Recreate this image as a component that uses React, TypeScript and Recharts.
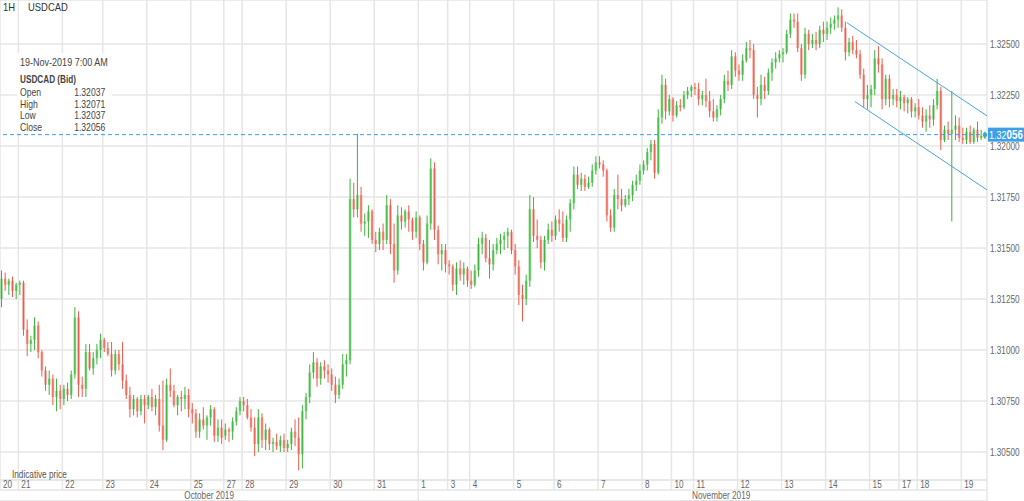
import React from 'react'
import { ComposedChart, Bar, XAxis, YAxis, CartesianGrid, ReferenceLine } from 'recharts'

// USDCAD, 2-hour candles: [open, high, low, close]
type Candle = [number, number, number, number]

const oct20: Candle[] = [
  [1.3125, 1.3139, 1.3121, 1.3135], [1.3135, 1.3138, 1.3129, 1.3132], [1.3132, 1.3135, 1.3127, 1.3134],
  [1.3134, 1.3136, 1.3126, 1.3129], [1.3129, 1.3133, 1.3125, 1.3132],
]
const oct21: Candle[] = [
  [1.3132, 1.3134, 1.3127, 1.3133], [1.3133, 1.3134, 1.3107, 1.311], [1.311, 1.3115, 1.3097, 1.3103],
  [1.3103, 1.3107, 1.3099, 1.3105], [1.3105, 1.3116, 1.31, 1.3112], [1.3112, 1.3114, 1.3096, 1.3099],
  [1.3099, 1.31, 1.3087, 1.309], [1.309, 1.3092, 1.308, 1.3083], [1.3083, 1.309, 1.3078, 1.3086],
  [1.3086, 1.3088, 1.3073, 1.3077], [1.3077, 1.3086, 1.307, 1.308], [1.308, 1.3083, 1.3071, 1.3076],
]
const oct22: Candle[] = [
  [1.3076, 1.3083, 1.3073, 1.3081], [1.3081, 1.3084, 1.3075, 1.3078], [1.3078, 1.309, 1.3076, 1.3088],
  [1.3088, 1.3121, 1.3086, 1.3116], [1.3116, 1.3119, 1.3077, 1.3083], [1.3083, 1.3087, 1.3077, 1.3081],
  [1.3081, 1.3103, 1.3077, 1.3099], [1.3099, 1.3103, 1.309, 1.3091], [1.3091, 1.3099, 1.3088, 1.3096],
  [1.3096, 1.3103, 1.3093, 1.31], [1.31, 1.3108, 1.3096, 1.3105],
]
const oct23: Candle[] = [
  [1.3105, 1.3106, 1.3099, 1.3101], [1.3101, 1.3104, 1.3097, 1.3098], [1.3098, 1.3104, 1.3087, 1.309],
  [1.309, 1.31, 1.3088, 1.3098], [1.3098, 1.31, 1.309, 1.3093], [1.3093, 1.3104, 1.3081, 1.3085],
  [1.3085, 1.3088, 1.3076, 1.3078], [1.3078, 1.3082, 1.3067, 1.3071], [1.3071, 1.3078, 1.3068, 1.3076],
  [1.3076, 1.3077, 1.3067, 1.307], [1.307, 1.3078, 1.3068, 1.3076], [1.3076, 1.3078, 1.3064, 1.3073],
]
const oct24: Candle[] = [
  [1.3073, 1.3078, 1.3071, 1.3077], [1.3077, 1.3081, 1.307, 1.3072], [1.3072, 1.3078, 1.3068, 1.3076],
  [1.3076, 1.3083, 1.306, 1.3063], [1.3063, 1.3085, 1.3051, 1.3056], [1.3056, 1.3086, 1.3055, 1.3083],
  [1.3083, 1.3091, 1.3077, 1.308], [1.308, 1.3083, 1.3072, 1.3073], [1.3073, 1.3078, 1.3068, 1.3077],
  [1.3077, 1.308, 1.307, 1.3076], [1.3076, 1.3082, 1.3071, 1.3078], [1.3078, 1.3081, 1.3067, 1.3071],
]
const oct25: Candle[] = [
  [1.3071, 1.3074, 1.3064, 1.3069], [1.3069, 1.3071, 1.3057, 1.306], [1.306, 1.3069, 1.3057, 1.3066],
  [1.3066, 1.3072, 1.3061, 1.3063], [1.3063, 1.3068, 1.3056, 1.3067], [1.3067, 1.3073, 1.3063, 1.3071],
  [1.3071, 1.3072, 1.3055, 1.3058], [1.3058, 1.3066, 1.3055, 1.3062], [1.3062, 1.3066, 1.3054, 1.3057],
]
const oct27: Candle[] = [
  [1.3058, 1.3064, 1.3056, 1.3061], [1.3061, 1.3062, 1.3055, 1.306], [1.306, 1.3067, 1.3056, 1.3065],
  [1.3065, 1.3072, 1.3063, 1.307], [1.307, 1.3077, 1.3068, 1.3075],
]
const oct28: Candle[] = [
  [1.3075, 1.3077, 1.307, 1.3073], [1.3073, 1.3076, 1.3066, 1.3067], [1.3067, 1.3071, 1.306, 1.3062],
  [1.3062, 1.3067, 1.3048, 1.3054], [1.3054, 1.3071, 1.305, 1.3067], [1.3067, 1.3069, 1.3052, 1.3056],
  [1.3056, 1.3064, 1.3051, 1.3061], [1.3061, 1.3062, 1.3051, 1.3054], [1.3054, 1.3057, 1.305, 1.3055],
  [1.3055, 1.3059, 1.3051, 1.3053], [1.3053, 1.3058, 1.305, 1.3056], [1.3056, 1.3059, 1.305, 1.3052],
]
const oct29: Candle[] = [
  [1.3052, 1.3056, 1.305, 1.3054], [1.3054, 1.3062, 1.3051, 1.306], [1.306, 1.3066, 1.3053, 1.3057],
  [1.3057, 1.3067, 1.3041, 1.3049], [1.3049, 1.3073, 1.3042, 1.307], [1.307, 1.3079, 1.3066, 1.3077],
  [1.3077, 1.3093, 1.3074, 1.3089], [1.3089, 1.3099, 1.3086, 1.3094], [1.3094, 1.3096, 1.3082, 1.3086],
  [1.3086, 1.3094, 1.3083, 1.3092], [1.3092, 1.3095, 1.3086, 1.309], [1.309, 1.3093, 1.3084, 1.3088],
]
const oct30: Candle[] = [
  [1.3088, 1.3091, 1.308, 1.3083], [1.3083, 1.3087, 1.3074, 1.3078], [1.3078, 1.3086, 1.3076, 1.3083],
  [1.3083, 1.3098, 1.3081, 1.3093], [1.3093, 1.3098, 1.3087, 1.3095], [1.3095, 1.3184, 1.3093, 1.3174],
  [1.3174, 1.3182, 1.3165, 1.3169], [1.3169, 1.3206, 1.3165, 1.3176], [1.3176, 1.318, 1.3158, 1.3162],
  [1.3162, 1.3167, 1.3156, 1.3163], [1.3163, 1.3171, 1.3155, 1.3168], [1.3168, 1.3169, 1.3152, 1.3154],
]
const oct31: Candle[] = [
  [1.3154, 1.3158, 1.3148, 1.3152], [1.3152, 1.316, 1.3149, 1.3158], [1.3158, 1.3162, 1.3149, 1.3154],
  [1.3154, 1.3176, 1.3152, 1.3171], [1.3171, 1.3174, 1.3147, 1.3152], [1.3152, 1.3162, 1.3133, 1.3139],
  [1.3139, 1.3171, 1.3137, 1.3166], [1.3166, 1.317, 1.3159, 1.3163], [1.3163, 1.3169, 1.316, 1.3168],
  [1.3168, 1.3171, 1.3158, 1.3164], [1.3164, 1.3165, 1.3154, 1.3158], [1.3158, 1.3168, 1.3155, 1.3165],
]
const nov1: Candle[] = [
  [1.3165, 1.3166, 1.3149, 1.3152], [1.3152, 1.3154, 1.3139, 1.3143], [1.3143, 1.3166, 1.3142, 1.3162],
  [1.3162, 1.3194, 1.3159, 1.3189], [1.3189, 1.3192, 1.3154, 1.3159], [1.3159, 1.3161, 1.3142, 1.3147],
  [1.3147, 1.3152, 1.3139, 1.3149], [1.3149, 1.3152, 1.3138, 1.3142],
]
const nov3: Candle[] = [
  [1.3142, 1.3144, 1.3137, 1.3141], [1.3141, 1.3142, 1.3129, 1.3132], [1.3132, 1.3143, 1.3127, 1.314],
  [1.314, 1.3144, 1.3134, 1.3137], [1.3137, 1.3143, 1.3132, 1.314], [1.314, 1.3141, 1.3131, 1.3134],
]
const nov4: Candle[] = [
  [1.3134, 1.3139, 1.313, 1.3132], [1.3132, 1.3142, 1.3131, 1.3139], [1.3139, 1.3155, 1.3136, 1.3152],
  [1.3152, 1.3158, 1.3147, 1.3155], [1.3155, 1.3157, 1.3143, 1.3145], [1.3145, 1.3154, 1.3135, 1.3142],
  [1.3142, 1.3152, 1.3139, 1.3149], [1.3149, 1.3155, 1.3147, 1.3152], [1.3152, 1.3157, 1.3147, 1.3154],
  [1.3154, 1.3158, 1.3149, 1.3156], [1.3156, 1.316, 1.315, 1.3158], [1.3158, 1.3159, 1.3147, 1.3149],
]
const nov5: Candle[] = [
  [1.3149, 1.3152, 1.3137, 1.3141], [1.3141, 1.3144, 1.3122, 1.3127], [1.3127, 1.3132, 1.3114, 1.3125],
  [1.3125, 1.3137, 1.3122, 1.3134], [1.3134, 1.3176, 1.3131, 1.3169], [1.3169, 1.3175, 1.3153, 1.3156],
  [1.3156, 1.3164, 1.315, 1.3154], [1.3154, 1.3156, 1.314, 1.3143], [1.3143, 1.3156, 1.3139, 1.3154],
  [1.3154, 1.3162, 1.3152, 1.3159], [1.3159, 1.3163, 1.3153, 1.3156],
]
const nov6: Candle[] = [
  [1.3156, 1.3166, 1.3154, 1.3164], [1.3164, 1.3169, 1.3158, 1.3162], [1.3162, 1.3168, 1.3153, 1.3155],
  [1.3155, 1.3166, 1.3153, 1.3164], [1.3164, 1.3174, 1.3158, 1.3172], [1.3172, 1.319, 1.3169, 1.3186],
  [1.3186, 1.319, 1.3179, 1.3181], [1.3181, 1.3187, 1.3178, 1.3184], [1.3184, 1.3186, 1.3178, 1.318],
  [1.318, 1.3185, 1.3179, 1.3182], [1.3182, 1.3191, 1.318, 1.3188], [1.3188, 1.3195, 1.3186, 1.3192],
]
const nov7: Candle[] = [
  [1.3192, 1.3195, 1.3189, 1.3191], [1.3191, 1.3193, 1.3185, 1.3188], [1.3188, 1.3189, 1.3163, 1.3166],
  [1.3166, 1.3169, 1.3158, 1.316], [1.316, 1.3179, 1.3158, 1.3176], [1.3176, 1.3186, 1.3169, 1.3174],
  [1.3174, 1.3179, 1.3168, 1.3171], [1.3171, 1.3176, 1.317, 1.3174], [1.3174, 1.3179, 1.3171, 1.3176],
  [1.3176, 1.3183, 1.3173, 1.3181], [1.3181, 1.3186, 1.3178, 1.3183], [1.3183, 1.3191, 1.3181, 1.3188],
]
const nov8: Candle[] = [
  [1.3188, 1.3193, 1.3186, 1.3191], [1.3191, 1.3199, 1.3188, 1.3197], [1.3197, 1.3203, 1.3193, 1.3201],
  [1.3201, 1.3203, 1.3184, 1.3187], [1.3187, 1.3218, 1.3186, 1.3214], [1.3214, 1.3235, 1.3211, 1.323],
  [1.323, 1.3233, 1.3213, 1.3217], [1.3217, 1.3225, 1.3215, 1.3223],
]
const nov10: Candle[] = [
  [1.3223, 1.3224, 1.3212, 1.3215], [1.3215, 1.3222, 1.3214, 1.322], [1.322, 1.3223, 1.3217, 1.3219],
  [1.3219, 1.3227, 1.3218, 1.3225], [1.3225, 1.3229, 1.3223, 1.3227], [1.3227, 1.323, 1.3224, 1.3229],
]
const nov11: Candle[] = [
  [1.3229, 1.3231, 1.3225, 1.3228], [1.3228, 1.3231, 1.322, 1.3223], [1.3223, 1.3227, 1.322, 1.3225],
  [1.3225, 1.3233, 1.3219, 1.3222], [1.3222, 1.3227, 1.3214, 1.3217], [1.3217, 1.3223, 1.3212, 1.3214],
  [1.3214, 1.322, 1.3212, 1.3218], [1.3218, 1.3225, 1.3215, 1.3223], [1.3223, 1.3235, 1.3221, 1.3232],
  [1.3232, 1.3237, 1.3227, 1.323], [1.323, 1.3247, 1.3228, 1.3244], [1.3244, 1.3246, 1.3234, 1.3237],
]
const nov12: Candle[] = [
  [1.3237, 1.324, 1.3232, 1.3235], [1.3235, 1.3245, 1.3232, 1.3242], [1.3242, 1.3251, 1.3241, 1.3248],
  [1.3248, 1.3252, 1.3243, 1.3247], [1.3247, 1.325, 1.3223, 1.3225], [1.3225, 1.3229, 1.3214, 1.3223],
  [1.3223, 1.3235, 1.322, 1.323], [1.323, 1.3234, 1.3223, 1.3227], [1.3227, 1.3238, 1.3225, 1.3236],
  [1.3236, 1.3243, 1.3232, 1.3241], [1.3241, 1.3246, 1.3238, 1.3243], [1.3243, 1.3247, 1.3241, 1.3245],
]
const nov13: Candle[] = [
  [1.3245, 1.3248, 1.3241, 1.3246], [1.3246, 1.3257, 1.3245, 1.3255], [1.3255, 1.3265, 1.3253, 1.3262],
  [1.3262, 1.3265, 1.3258, 1.3261], [1.3261, 1.3265, 1.3246, 1.3248], [1.3248, 1.325, 1.3232, 1.3235],
  [1.3235, 1.3258, 1.3233, 1.3255], [1.3255, 1.3257, 1.3247, 1.325], [1.325, 1.3255, 1.3248, 1.3252],
  [1.3252, 1.3256, 1.3247, 1.325], [1.325, 1.3259, 1.3248, 1.3257], [1.3257, 1.3261, 1.3251, 1.3255],
]
const nov14: Candle[] = [
  [1.3255, 1.3261, 1.3252, 1.3258], [1.3258, 1.3263, 1.3255, 1.326], [1.326, 1.3264, 1.3257, 1.3262],
  [1.3262, 1.3268, 1.3258, 1.3264], [1.3264, 1.3267, 1.3256, 1.3258], [1.3258, 1.3261, 1.3242, 1.3246],
  [1.3246, 1.3253, 1.3244, 1.3251], [1.3251, 1.3254, 1.3245, 1.3247], [1.3247, 1.3252, 1.3243, 1.3245],
  [1.3245, 1.3247, 1.3233, 1.3235], [1.3235, 1.3238, 1.3219, 1.3223], [1.3223, 1.323, 1.3218, 1.3225],
]
const nov15: Candle[] = [
  [1.3225, 1.323, 1.3219, 1.3228], [1.3228, 1.3247, 1.3225, 1.3243], [1.3243, 1.3249, 1.3236, 1.324],
  [1.324, 1.3243, 1.3218, 1.3223], [1.3223, 1.3235, 1.322, 1.3233], [1.3233, 1.3235, 1.3219, 1.3223],
  [1.3223, 1.3228, 1.322, 1.3225], [1.3225, 1.3228, 1.3219, 1.3222],
]
const nov17: Candle[] = [
  [1.3222, 1.3227, 1.3218, 1.3224], [1.3224, 1.3225, 1.3217, 1.3221], [1.3221, 1.3224, 1.3216, 1.3223],
  [1.3223, 1.3224, 1.3214, 1.3217], [1.3217, 1.3221, 1.3214, 1.3219],
]
const nov18: Candle[] = [
  [1.3219, 1.3223, 1.3213, 1.3215], [1.3215, 1.3219, 1.3209, 1.3212], [1.3212, 1.3218, 1.3207, 1.3215],
  [1.3215, 1.322, 1.3209, 1.3213], [1.3213, 1.3223, 1.321, 1.322], [1.322, 1.3233, 1.3218, 1.3227],
  [1.3227, 1.3229, 1.3198, 1.3203], [1.3203, 1.321, 1.3202, 1.3208], [1.3208, 1.3212, 1.3203, 1.3206],
  [1.3206, 1.3227, 1.3163, 1.3208], [1.3208, 1.3215, 1.3203, 1.321], [1.321, 1.3214, 1.3202, 1.3204],
]
const nov19: Candle[] = [
  [1.3204, 1.3209, 1.3201, 1.3203], [1.3203, 1.3209, 1.3201, 1.3207], [1.3207, 1.321, 1.3201, 1.3202],
  [1.3202, 1.3209, 1.3201, 1.3208], [1.3208, 1.3212, 1.3202, 1.3204], [1.3204, 1.3208, 1.3203, 1.3205],
  [1.32037, 1.32071, 1.32037, 1.32056],
]

const DAYS: [string, Candle[]][] = [
  ['20', oct20], ['21', oct21], ['22', oct22], ['23', oct23], ['24', oct24], ['25', oct25],
  ['27', oct27], ['28', oct28], ['29', oct29], ['30', oct30], ['31', oct31],
  ['1', nov1], ['3', nov3], ['4', nov4], ['5', nov5], ['6', nov6], ['7', nov7], ['8', nov8],
  ['10', nov10], ['11', nov11], ['12', nov12], ['13', nov13], ['14', nov14], ['15', nov15],
  ['17', nov17], ['18', nov18], ['19', nov19],
]
const MONTHS: [string, number][] = [['October 2019', 0], ['November 2019', 11]] // label, first day index

const PRICE_TICKS = [1.305, 1.3075, 1.31, 1.3125, 1.315, 1.3175, 1.32, 1.3225, 1.325]
const PRICE_DOMAIN = [1.30363, 1.32716]
const LAST_CLOSE = 1.32056
// channel lines drawn on the chart: [candle position, price]
const UPPER_CHANNEL = [[230.8, 1.32605], [269, 1.32148]]
const LOWER_CHANNEL = [[233, 1.32218], [269, 1.31785]]

const W = 1024
const H = 501
const Y_AXIS_W = 37

const data: any[] = []
const dayStarts: number[] = []
DAYS.forEach(([, candles]) => {
  dayStarts.push(data.length)
  candles.forEach(([o, h, l, c]) => {
    data.push({ x: data.length + 0.5, open: o, high: h, low: l, close: c, range: [l, h] })
  })
})
const N = data.length
const dayTicks = [...dayStarts, N]
const dayLabel: Record<number, string> = {}
dayStarts.forEach((s, i) => { dayLabel[s] = DAYS[i][0] })

// month label sits mid-way of its days; the last one runs on under the price axis
const monthStart = MONTHS.map(([, d]) => dayStarts[d])
const monthCenters = MONTHS.map((_, i) => {
  const end = i < MONTHS.length - 1 ? monthStart[i + 1] : (N * W) / (W - Y_AXIS_W)
  return (monthStart[i] + end) / 2
})
const monthTicks = [...monthCenters, ...monthStart.slice(1), N]

const FONT = '"Liberation Sans", Arial, sans-serif'
const SQUEEZE = 0.82 // the original uses a narrow face
const GRID = '#e6e6e6'
const UP_WICK = '#3cb43c'
const UP_BODY = '#8fd88f'
const DOWN_WICK = '#ec5c4c'
const DOWN_BODY = '#f4a69d'
const BLUE = '#3d9fe6'

// horizontal squeeze of an svg text around its anchor x
const narrow = (x: number) => `matrix(${SQUEEZE} 0 0 1 ${x * (1 - SQUEEZE)} 0)`
const narrowCss = { transform: `scaleX(${SQUEEZE})`, transformOrigin: 'left top' } as const

const CandleShape = (props: any) => {
  const { x, y, width, height, payload } = props
  const { open, high, low, close } = payload
  const top = Math.min(y, y + height)
  const bottom = Math.max(y, y + height)
  const span = high - low || 1
  const toY = (v: number) => top + ((high - v) / span) * (bottom - top)
  const up = close >= open
  const cx = x + width / 2
  const bTop = toY(Math.max(open, close))
  const bBot = toY(Math.min(open, close))
  return (
    <g>
      <rect x={cx - 1.3} y={bTop} width={2.6} height={Math.max(bBot - bTop, 1)} fill={up ? UP_BODY : DOWN_BODY} />
      <line x1={cx} x2={cx} y1={top} y2={bottom} stroke={up ? UP_WICK : DOWN_WICK} strokeWidth={1} />
    </g>
  )
}

const DayTick = (props: any) => {
  const { x, y, payload } = props
  return (
    <g>
      <line x1={x} x2={x} y1={y} y2={y + 10} stroke={GRID} strokeWidth={1.5} />
      <text x={x + 3} y={y + 8.5} fontSize={10} fontFamily={FONT} fill="#666" transform={narrow(x + 3)}>
        {dayLabel[payload.value] ?? ''}
      </text>
    </g>
  )
}

const MonthTick = (props: any) => {
  const { x, y, payload } = props
  const i = monthCenters.indexOf(payload.value)
  if (i >= 0) {
    return (
      <text x={x} y={y + 9} fontSize={10} fontFamily={FONT} fill="#666" textAnchor="middle" transform={narrow(x)}>
        {MONTHS[i][0]}
      </text>
    )
  }
  return (
    <g>
      <line x1={x} x2={x} y1={y} y2={y + 11} stroke={GRID} strokeWidth={1.5} />
      {payload.value === N && <line x1={0} x2={x} y1={y + 10.5} y2={y + 10.5} stroke={GRID} strokeWidth={1} />}
    </g>
  )
}

const PriceTick = (props: any) => {
  const { x, y, payload } = props
  return (
    <text x={x} y={y} dy="0.355em" fontSize={10} fontFamily={FONT} fill="#666" transform={narrow(x)}>
      {payload.value.toFixed(5)}
    </text>
  )
}

const PriceTag = (props: any) => {
  const { x, y, width } = props.viewBox
  const right = x + width
  return (
    <g>
      <circle cx={right - 2} cy={y} r={2.2} fill={BLUE} />
      <rect x={right + 1} y={y - 7} width={40} height={14} fill={BLUE} />
      <text x={right + 2} y={y + 4} fontSize={11} fontFamily={FONT} fill="#fff" transform={narrow(right + 2)}>
        1.32<tspan fontWeight="bold" fontSize={12}>056</tspan>
      </text>
    </g>
  )
}

const INFO_ROWS: [string, string][] = [
  ['Open', '1.32037'], ['High', '1.32071'], ['Low', '1.32037'], ['Close', '1.32056'],
]

export default function App() {
  return (
    <div style={{ position: 'absolute', left: 0, top: 0, width: W, height: H, background: '#fff', fontFamily: FONT, overflow: 'hidden' }}>
      <ComposedChart width={W} height={H} data={data} margin={{ top: 0, right: 0, bottom: 0, left: 0 }}>
        <CartesianGrid stroke={GRID} strokeWidth={1.5} />
        <XAxis
          dataKey="x"
          type="number"
          domain={[0, N]}
          ticks={dayTicks}
          interval={0}
          height={10}
          tickSize={0}
          tickMargin={0}
          tickLine={false}
          axisLine={{ stroke: GRID, strokeWidth: 1.5 }}
          tick={<DayTick />}
          allowDataOverflow
        />
        <XAxis
          xAxisId="m"
          dataKey="x"
          type="number"
          domain={[0, N]}
          ticks={monthTicks}
          interval={0}
          height={11}
          tickSize={0}
          tickMargin={0}
          tickLine={false}
          axisLine={{ stroke: GRID, strokeWidth: 1.5 }}
          tick={<MonthTick />}
          allowDataOverflow
        />
        <YAxis
          orientation="right"
          type="number"
          domain={PRICE_DOMAIN}
          ticks={PRICE_TICKS}
          width={Y_AXIS_W}
          allowDataOverflow
          axisLine={false}
          tickLine={false}
          tickSize={0}
          tickMargin={3}
          tick={<PriceTick />}
        />
        <Bar dataKey="range" barSize={3} shape={<CandleShape />} isAnimationActive={false} />
        <ReferenceLine y={LAST_CLOSE} stroke={BLUE} strokeDasharray="4 3" label={<PriceTag />} />
        <ReferenceLine
          segment={UPPER_CHANNEL.map(([x, y]) => ({ x, y }))}
          stroke="#4aa3df"
          strokeWidth={1}
        />
        <ReferenceLine
          segment={LOWER_CHANNEL.map(([x, y]) => ({ x, y }))}
          stroke="#4aa3df"
          strokeWidth={1}
        />
      </ComposedChart>

      <div style={{ position: 'absolute', left: 3, top: 1, fontSize: 11.5, color: '#333', ...narrowCss }}>1H</div>
      <div style={{ position: 'absolute', left: 28, top: 1, fontSize: 11.5, color: '#333', ...narrowCss }}>USDCAD</div>

      <div style={{ position: 'absolute', left: 17, top: 53, width: 95, height: 80, background: '#fff' }} />
      <div style={{ position: 'absolute', left: 20, top: 56, width: 104, fontSize: 10.5, color: '#444', whiteSpace: 'nowrap', ...narrowCss }}>
        <div style={{ position: 'absolute', left: 0, top: 0, fontSize: 11 }}>19-Nov-2019 7:00 AM</div>
        <div style={{ position: 'absolute', left: 0, top: 18, fontWeight: 'bold', fontSize: 10 }}>USDCAD (Bid)</div>
        {INFO_ROWS.map(([k, v], i) => (
          <div key={k} style={{ position: 'absolute', left: 0, right: 0, top: 30 + i * 11.7, display: 'flex', justifyContent: 'space-between' }}>
            <span>{k}</span><span>{v}</span>
          </div>
        ))}
      </div>
      <div style={{ position: 'absolute', left: 12, top: 469, fontSize: 10, color: '#555', whiteSpace: 'nowrap', ...narrowCss }}>Indicative price</div>
    </div>
  )
}
